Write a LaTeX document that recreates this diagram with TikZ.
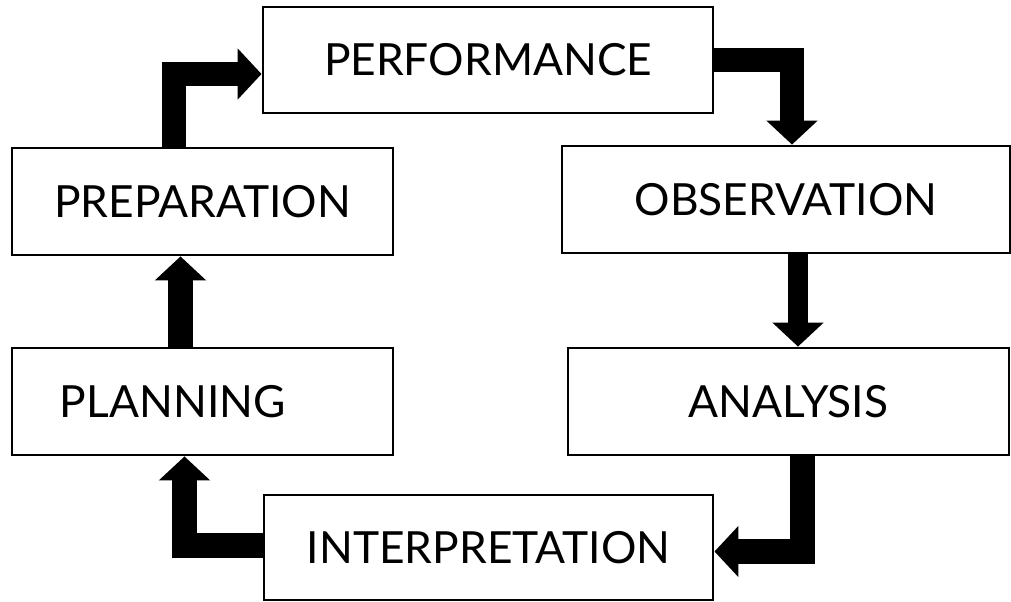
\documentclass[tikz,border=0pt]{standalone}
\usepackage{fontspec}
\setmainfont{Lato}
\usetikzlibrary{arrows.meta}

\tikzset{
  stage/.style={draw, line width=2pt, minimum height=2.675cm, inner sep=0pt,
    font=\fontsize{31.5}{36}\selectfont},
  flow/.style={line width=0.62cm, line join=miter,
    -{Triangle[width=1.25cm,length=0.6cm]}}
}

\begin{document}
\begin{tikzpicture}[x=0.025cm, y=-0.025cm]
      \useasboundingbox (0,0) rectangle (1011,602);
      \node[stage, minimum width=11.25cm, minimum height=2.65cm] (perf) at (488,60) {PERFORMANCE};
      \node[stage, minimum width=9.525cm] (prep) at (202.5,201.5) {PREPARATION};
      \node[stage, minimum width=11.2cm] (obs) at (786,199.5) {OBSERVATION};
      \node[stage, text width=7.125cm, inner xsep=1.2cm, align=left] (plan) at (202.5,401.5) {PLANNING};
      \node[stage, minimum width=11.025cm] (ana) at (788.5,401.5) {ANALYSIS};
      \node[stage, minimum width=11.225cm, minimum height=2.625cm] (interp) at (488.5,547.5) {INTERPRETATION};
      % the cycle
      \draw[flow] ([xshift=-0.71cm]prep.north) |- ([yshift=-0.35cm]perf.west);
      \draw[flow] (perf.east) -| ([xshift=0.15cm]obs.north);
      \draw[flow, line width=0.52cm] ([xshift=0.3cm]obs.south) -- ([xshift=0.3cm]obs.south |- ana.north);
      \draw[flow] ([xshift=0.34cm]ana.south) |- ([yshift=-0.1cm]interp.east);
      \draw[flow] ([yshift=0.06cm]interp.west) -| ([xshift=-0.45cm]plan.south);
      \draw[flow] ([xshift=-0.55cm]plan.north) -- ([xshift=-0.55cm]prep.south);
    \end{tikzpicture}
\end{document}
